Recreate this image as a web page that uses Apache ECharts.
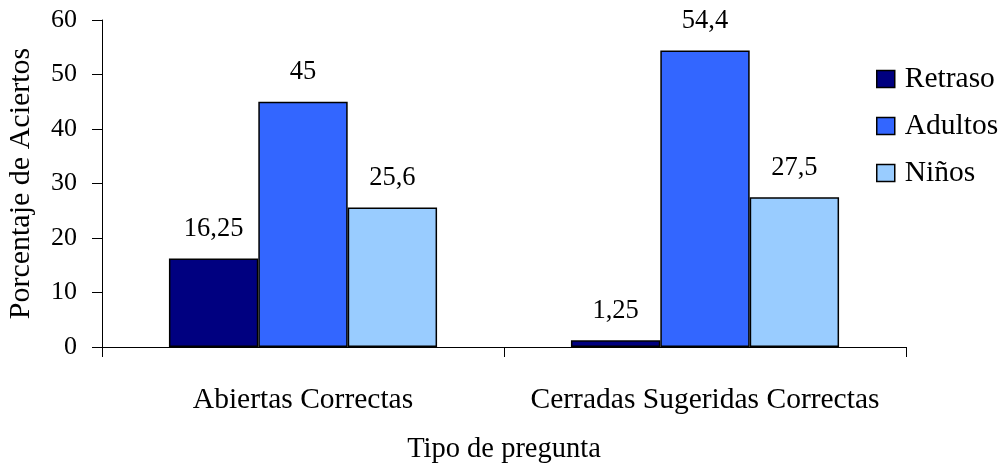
<!DOCTYPE html>
<html>
<head>
<meta charset="utf-8">
<script src="https://cdn.jsdelivr.net/npm/echarts@6/dist/echarts.min.js"></script>
<style>html,body{margin:0;padding:0;background:#fff}#c{width:1001px;height:466px}</style>
</head>
<body>
<div id="c"></div>
<script>
const categories = ['Abiertas Correctas', 'Cerradas Sugeridas Correctas'];
const retraso = [16.25, 1.25];
const adultos = [45, 54.4];
const ninos = [25.6, 27.5];
const seriesNames = ['Retraso', 'Adultos', 'Niños'];
const yTicks = { min: 0, max: 60, interval: 10 };

const font = 'Liberation Serif, Times New Roman, serif';
const fmt = p => String(p.value).replace('.', ',');
function bar(name, data, color) {
  return {
    name, type: 'bar', data,
    barGap: '0%', barCategoryGap: '33.3%',
    itemStyle: { color, borderColor: '#000', borderWidth: 1.5 },
    label: { show: true, position: 'top', distance: 16, color: '#000', fontFamily: font, fontSize: 26.5, formatter: fmt }
  };
}
const chart = echarts.init(document.getElementById('c'));
chart.setOption({
  animation: false,
  backgroundColor: '#fff',
  textStyle: { fontFamily: font },
  grid: { left: 102, right: 95, top: 20, bottom: 119, containLabel: false, outerBoundsMode: 'none' },
  legend: {
    orient: 'vertical', left: 876, top: 60, padding: 0,
    itemWidth: 18, itemHeight: 17, itemGap: 9,
    icon: 'rect',
    itemStyle: { borderColor: '#000', borderWidth: 1.5 },
    textStyle: { fontFamily: font, fontSize: 29.5, lineHeight: 30, color: '#000', padding: [8, 0, 0, 5] },
    data: seriesNames
  },
  xAxis: {
    type: 'category', data: categories,
    name: 'Tipo de pregunta', nameLocation: 'middle', nameGap: 88,
    nameTextStyle: { fontFamily: font, fontSize: 28.5, color: '#000' },
    axisLine: { lineStyle: { color: '#000', width: 1 } },
    axisTick: { show: true, length: 10, lineStyle: { color: '#000' } },
    axisLabel: { interval: 0, fontFamily: font, fontSize: 29.5, color: '#000', margin: 38 }
  },
  yAxis: {
    type: 'value', min: yTicks.min, max: yTicks.max, interval: yTicks.interval,
    name: 'Porcentaje de Aciertos', nameLocation: 'middle', nameGap: 66, nameRotate: 90,
    nameTextStyle: { fontFamily: font, fontSize: 30, color: '#000' },
    axisLine: { show: true, lineStyle: { color: '#000', width: 1 } },
    axisTick: { show: true, length: 10, lineStyle: { color: '#000' } },
    axisLabel: { fontFamily: font, fontSize: 26, color: '#000', margin: 25 },
    splitLine: { show: false }
  },
  series: [
    bar(seriesNames[0], retraso, '#000080'),
    bar(seriesNames[1], adultos, '#3366FF'),
    bar(seriesNames[2], ninos, '#99CCFF')
  ]
});
</script>
</body>
</html>
